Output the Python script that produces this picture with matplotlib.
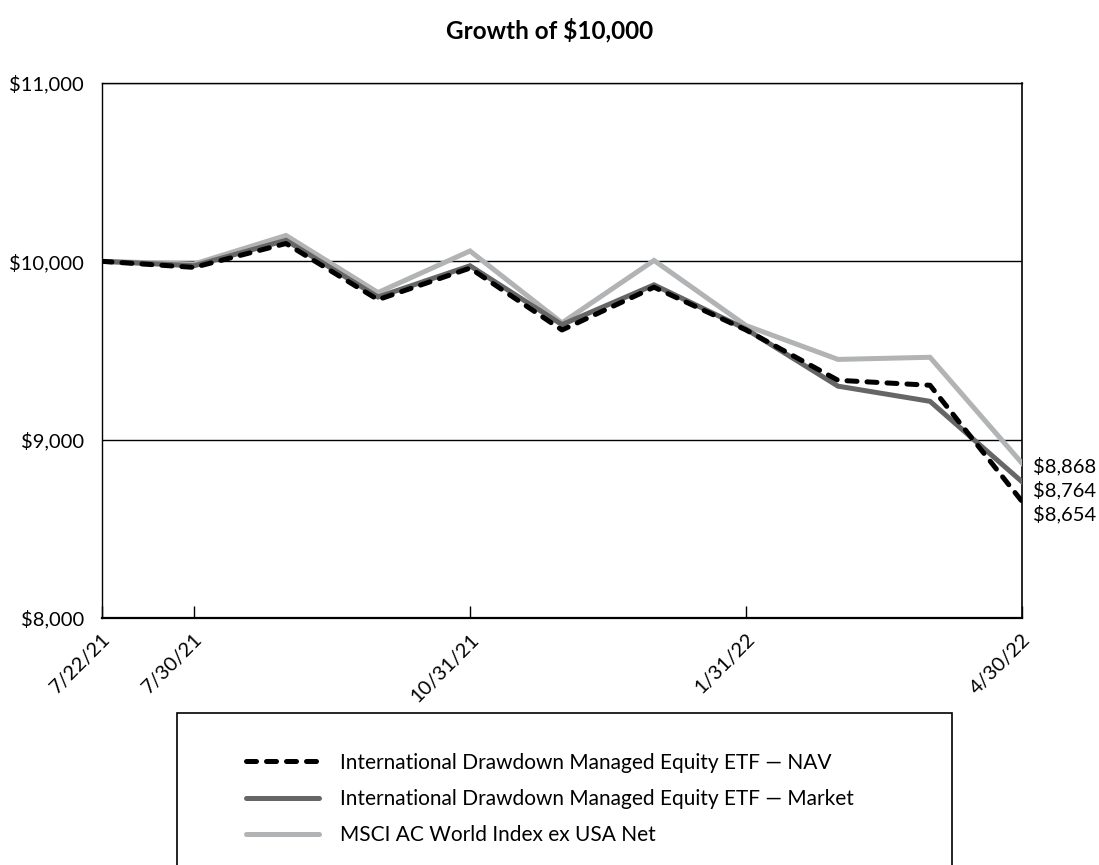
import matplotlib.pyplot as plt
from matplotlib.patches import Rectangle
from matplotlib.lines import Line2D

plt.rcParams['font.family'] = ['Lato', 'DejaVu Sans']

dates = ['7/22/21', '7/30/21', '8/31/21', '9/30/21', '10/31/21', '11/30/21',
         '12/31/21', '1/31/22', '2/28/22', '3/31/22', '4/30/22']
nav = [10000, 9966, 10100, 9785, 9962, 9615, 9855, 9615, 9333, 9305, 8654]
market = [10000, 9975, 10118, 9800, 9975, 9645, 9868, 9620, 9300, 9215, 8764]
msci = [10000, 9985, 10145, 9825, 10058, 9655, 10005, 9640, 9450, 9462, 8868]
tick_dates = ['7/22/21', '7/30/21', '10/31/21', '1/31/22', '4/30/22']
y_ticks = [8000, 9000, 10000, 11000]

names = ['International Drawdown Managed Equity ETF \u2014 NAV',
         'International Drawdown Managed Equity ETF \u2014 Market',
         'MSCI AC World Index ex USA Net']
colors = ['#000000', '#666666', '#b1b3b5']

fig = plt.figure(figsize=(10.99, 8.65), dpi=100)
ax = fig.add_axes([102 / 1099, 1 - 618 / 865, 920 / 1099, 535 / 865])

x = list(range(len(dates)))
ax.plot(x, msci, color=colors[2], lw=3.6, solid_joinstyle='miter', zorder=3)
ax.plot(x, market, color=colors[1], lw=3.6, solid_joinstyle='miter', zorder=4)
ax.plot(x, nav, color=colors[0], lw=3.6, dashes=(2, 2), dash_capstyle='round',
        zorder=5)

# ending values next to the right axis
for vals, dy in [(msci, -2), (market, -6), (nav, -9)]:
    ax.annotate('\\$' + format(vals[-1], ','), xy=(x[-1], vals[-1]),
                xytext=(8, dy), textcoords='offset points', va='center',
                ha='left', fontsize=14.5, annotation_clip=False)

ax.set_xlim(0, len(dates) - 1)
ax.set_ylim(8000, 11000)
ax.set_yticks(y_ticks)
ax.set_yticklabels(['\\$' + format(v, ',') for v in y_ticks], fontsize=14.5)
ax.set_xticks([dates.index(d) for d in tick_dates])
ax.set_xticklabels(tick_dates, rotation=45, ha='right', rotation_mode='anchor',
                   fontsize=14.5)
ax.tick_params(axis='y', length=0, pad=13)
ax.tick_params(axis='x', direction='in', length=9, width=1, pad=9)
ax.grid(axis='y', color='black', lw=1)
ax.set_axisbelow(True)
for s in ['left', 'top']:
    ax.spines[s].set_linewidth(1)
ax.spines['right'].set_linewidth(1.2)
ax.spines['bottom'].set_linewidth(1.6)

fig.text(0.5, 1 - 30 / 865, 'Growth of \\$10,000', ha='center', va='center',
         fontsize=17.5, fontweight='bold')

# legend box runs past the bottom edge
fig.patches.append(Rectangle((177 / 1099, -0.02), 775 / 1099, 152 / 865 + 0.02,
                             transform=fig.transFigure, fill=False,
                             ec='black', lw=1.2))
handles = [Line2D([], [], color=colors[0], lw=3.6, dashes=(2, 2),
                  dash_capstyle='round'),
           Line2D([], [], color=colors[1], lw=3.6, solid_capstyle='round'),
           Line2D([], [], color=colors[2], lw=3.6, solid_capstyle='round')]
fig.legend(handles, names, loc='upper left', frameon=False,
           bbox_to_anchor=(227 / 1099, 1 - 734 / 865), fontsize=15,
           handlelength=3.5, handletextpad=1.0, labelspacing=0.77)

fig.savefig('out.png', dpi=100)
